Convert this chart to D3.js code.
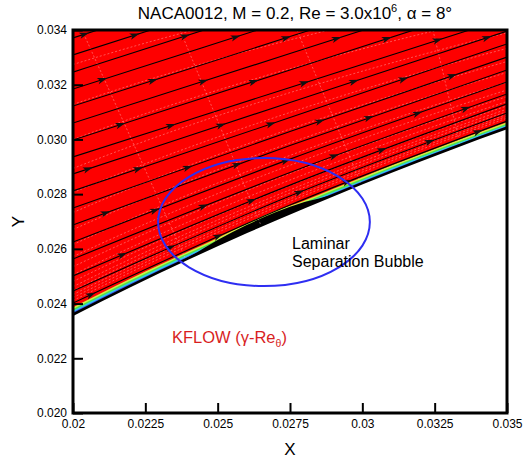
<!DOCTYPE html>
<html lang="en">
<head>
<meta charset="UTF-8">
<title>NACA0012 laminar separation bubble</title>
<script src="https://cdn.jsdelivr.net/npm/d3@7/dist/d3.min.js"></script>
<style>
    body { margin: 0; background: #fff; }
    text { font-family: "Liberation Sans", Arial, Helvetica, sans-serif; fill: #000; }
    .tick text { font-size: 12px; }
</style>
</head>
<body>
<svg id="main-svg" width="532" height="458" xmlns="http://www.w3.org/2000/svg"></svg>
<script>
'use strict';

// axis ticks
const xTicks = [0.02, 0.0225, 0.025, 0.0275, 0.03, 0.0325, 0.035];
const xTickLabels = ['0.02', '0.0225', '0.025', '0.0275', '0.03', '0.0325', '0.035'];
const yTicks = [0.020, 0.022, 0.024, 0.026, 0.028, 0.030, 0.032, 0.034];
const yTickLabels = ['0.020', '0.022', '0.024', '0.026', '0.028', '0.030', '0.032', '0.034'];

// upper surface of the airfoil (x, y)
const surfX = [0.020, 0.021, 0.022, 0.023, 0.024, 0.025, 0.026, 0.027,
               0.028, 0.029, 0.030, 0.031, 0.032, 0.033, 0.034, 0.035];
const surfY = [0.023598, 0.024136, 0.024659, 0.025168, 0.025663, 0.026147, 0.026619, 0.027080,
               0.027530, 0.027970, 0.028402, 0.028824, 0.029237, 0.029643, 0.030040, 0.030427];

// contour bands just above the wall (height above surface)
const blueOff   = [0.00009, 0.00009, 0.00008, 0.00008, 0.00008, 0.00008, 0.00008, 0.00007,
                   0.00007, 0.00007, 0.00007, 0.00007, 0.00006, 0.00006, 0.00006, 0.00006];
const cyanOff   = [0.00014, 0.00014, 0.00013, 0.00013, 0.00013, 0.00012, 0.00012, 0.00012,
                   0.00012, 0.00011, 0.00011, 0.00011, 0.00011, 0.00010, 0.00010, 0.00010];
const greenOff  = [0.00020, 0.00020, 0.00019, 0.00019, 0.00019, 0.00018, 0.00018, 0.00018,
                   0.00017, 0.00017, 0.00016, 0.00016, 0.00016, 0.00015, 0.00015, 0.00015];
const yellowOff = [0.00027, 0.00026, 0.00026, 0.00025, 0.00025, 0.00025, 0.00030, 0.00031,
                   0.00024, 0.00023, 0.00022, 0.00022, 0.00021, 0.00021, 0.00020, 0.00020];
// separation bubble thickness (dense recirculating streamlines)
const bubbleOff = [0, 0, 0, 0, 0.00004, 0.00018, 0.00025, 0.00026,
                   0.00018, 0.00002, 0, 0, 0, 0, 0, 0];

// streamlines: y at x = 0.02, 0.0275, 0.035
const streamX = [0.02, 0.0275, 0.035];
const streamLeft  = [0.03371, 0.03309, 0.03246, 0.03184, 0.03122, 0.03060, 0.02998, 0.02936, 0.02874,
                     0.02812, 0.02749, 0.02687, 0.02625, 0.02563, 0.02501, 0.02446, 0.02402];
const streamMid   = [0.03625, 0.03563, 0.03501, 0.03438, 0.03376, 0.03314, 0.03254, 0.03190, 0.03135,
                     0.03080, 0.03029, 0.02978, 0.02928, 0.02879, 0.02833, 0.02793, 0.02760];
const streamRight = [0.03879, 0.03817, 0.03755, 0.03692, 0.03630, 0.03568, 0.03510, 0.03444, 0.03396,
                     0.03349, 0.03301, 0.03254, 0.03210, 0.03166, 0.03130, 0.03097, 0.03067];

// grid lines of the mesh: wall-parallel lines (height above wall, left and right ends)
const meshOffLeft  = [0.00051, 0.00062, 0.00073, 0.00088, 0.00102, 0.00121, 0.00146, 0.00175, 0.00212,
                      0.00256, 0.00311, 0.00373, 0.00446, 0.00534, 0.00640, 0.00768, 0.00914, 0.01097];
const meshOffRight = [0.00035, 0.00042, 0.00049, 0.00059, 0.00068, 0.00080, 0.00096, 0.00114, 0.00138,
                      0.00166, 0.00202, 0.00242, 0.00290, 0.00347, 0.00416, 0.00499, 0.00594, 0.00713];
// wall-normal lines: from the top edge down to the wall
const meshTopX  = [0.02031, 0.02370, 0.02774, 0.03244];
const meshFootX = [0.02390, 0.02650, 0.02995, 0.03338];
const meshFootY = [0.02561, 0.02685, 0.02838, 0.02979];

// annotations
const ellipseC = [0.02660, 0.02698];
const ellipseR = [0.00366, 0.00234];

const svg = d3.select('#main-svg');
const x = d3.scaleLinear().domain([0.02, 0.035]).range([73, 507]);
const y = d3.scaleLinear().domain([0.020, 0.034]).range([413, 30]);

svg.append('clipPath').attr('id', 'plot-clip')
    .append('rect')
    .attr('x', x(0.02)).attr('y', y(0.034))
    .attr('width', x(0.035) - x(0.02)).attr('height', y(0.020) - y(0.034));

const plot = svg.append('g').attr('clip-path', 'url(#plot-clip)');
const idx = d3.range(surfX.length);

// red field above the wall
plot.append('path')
    .attr('d', d3.area()
        .x(i => x(surfX[i]))
        .y0(i => y(surfY[i]))
        .y1(() => y(0.035))
        .curve(d3.curveMonotoneX)(idx))
    .attr('fill', '#fe0000');

// colour bands near the wall
const bands = [[yellowOff, '#cdf046'], [greenOff, '#52e04a'], [cyanOff, '#30cdf0'], [blueOff, '#3a56f0']];
bands.forEach(([off, col]) => {
    plot.append('path')
        .attr('d', d3.area()
            .x(i => x(surfX[i]))
            .y0(i => y(surfY[i]))
            .y1(i => y(surfY[i] + off[i]))
            .curve(d3.curveMonotoneX)(idx))
        .attr('fill', col);
});

// laminar separation bubble
plot.append('path')
    .attr('d', d3.area()
        .x(i => x(surfX[i]))
        .y0(i => y(surfY[i]))
        .y1(i => y(surfY[i] + bubbleOff[i]))
        .curve(d3.curveMonotoneX)(idx))
    .attr('fill', '#000');

// mesh lines
const mesh = plot.append('g')
    .attr('fill', 'none')
    .attr('stroke', '#ffc8c8')
    .attr('stroke-opacity', 0.7)
    .attr('stroke-width', 0.6)
    .attr('stroke-dasharray', '2,2');
meshOffLeft.forEach((offL, k) => {
    const offR = meshOffRight[k];
    mesh.append('path')
        .attr('d', d3.line()
            .x(i => x(surfX[i]))
            .y(i => y(surfY[i] + offL + (offR - offL) * (surfX[i] - 0.02) / 0.015))
            .curve(d3.curveMonotoneX)(idx));
});
meshTopX.forEach((tx, k) => {
    mesh.append('line')
        .attr('x1', x(tx)).attr('y1', y(0.034))
        .attr('x2', x(meshFootX[k])).attr('y2', y(meshFootY[k]));
});

// streamlines with arrowheads
const streams = plot.append('g');
const streamLine = d3.line().x(d => x(d[0])).y(d => y(d[1])).curve(d3.curveNatural);
streamLeft.forEach((yl, k) => {
    const pts = [[streamX[0], yl], [streamX[1], streamMid[k]], [streamX[2], streamRight[k]]];
    const p = streams.append('path')
        .attr('d', streamLine(pts))
        .attr('fill', 'none')
        .attr('stroke', '#000')
        .attr('stroke-width', 1.1);
    const node = p.node();
    const len = node.getTotalLength();
    const step = 140;
    for (let s = 14 + (k * 53) % step; s < len - 4; s += step) {
        const a = node.getPointAtLength(s);
        const b = node.getPointAtLength(s + 2);
        const ang = Math.atan2(b.y - a.y, b.x - a.x) * 180 / Math.PI;
        streams.append('path')
            .attr('d', 'M3,0 L-7,-3.2 L-4.5,0 L-7,3.2 Z')
            .attr('transform', `translate(${a.x},${a.y}) rotate(${ang})`)
            .attr('fill', '#111');
    }
});

// airfoil surface
plot.append('path')
    .attr('d', d3.line()
        .x(i => x(surfX[i]))
        .y(i => y(surfY[i]))
        .curve(d3.curveMonotoneX)(idx))
    .attr('fill', 'none')
    .attr('stroke', '#000')
    .attr('stroke-width', 2.6);

// bubble annotation
svg.append('ellipse')
    .attr('cx', x(ellipseC[0])).attr('cy', y(ellipseC[1]))
    .attr('rx', x(ellipseC[0] + ellipseR[0]) - x(ellipseC[0]))
    .attr('ry', y(ellipseC[1] - ellipseR[1]) - y(ellipseC[1]))
    .attr('fill', 'none')
    .attr('stroke', '#2e2ef2')
    .attr('stroke-width', 2);

// axes
const xAxis = svg.append('g')
    .attr('transform', `translate(0,${y(0.020)})`)
    .call(d3.axisBottom(x).tickValues(xTicks)
        .tickFormat((d, i) => xTickLabels[i])
        .tickSizeInner(-10).tickSizeOuter(0).tickPadding(6));
const yAxis = svg.append('g')
    .attr('transform', `translate(${x(0.02)},0)`)
    .call(d3.axisLeft(y).tickValues(yTicks)
        .tickFormat((d, i) => yTickLabels[i])
        .tickSizeInner(-10).tickSizeOuter(0).tickPadding(6));
[xAxis, yAxis].forEach(g => {
    g.select('.domain').remove();
    g.selectAll('.tick line').attr('stroke-width', 2);
    g.selectAll('.tick text').attr('font-family', '"Liberation Sans", Arial, sans-serif').attr('font-size', 12);
});

// frame
svg.append('rect')
    .attr('x', x(0.02)).attr('y', y(0.034))
    .attr('width', x(0.035) - x(0.02)).attr('height', y(0.020) - y(0.034))
    .attr('fill', 'none')
    .attr('stroke', '#000')
    .attr('stroke-width', 3);

// title
const title = svg.append('text')
    .attr('x', 295).attr('y', 19)
    .attr('text-anchor', 'middle')
    .attr('font-size', 17);
title.append('tspan').text('NACA0012, M = 0.2, Re = 3.0x10');
title.append('tspan').attr('font-size', 11).attr('dy', -7).text('6');
title.append('tspan').attr('dy', 7).text(', \u03b1 = 8\u00b0');

// axis titles
svg.append('text')
    .attr('x', x(0.0275)).attr('y', 455)
    .attr('text-anchor', 'middle')
    .attr('font-size', 17)
    .text('X');
svg.append('text')
    .attr('transform', `translate(24,${y(0.027)}) rotate(-90)`)
    .attr('text-anchor', 'middle')
    .attr('font-size', 17)
    .text('Y');

// labels inside the plot
svg.append('text')
    .attr('x', x(0.02757)).attr('y', y(0.02599))
    .attr('font-size', 16)
    .text('Laminar');
svg.append('text')
    .attr('x', x(0.02757)).attr('y', y(0.02534))
    .attr('font-size', 16)
    .text('Separation Bubble');

const kflow = svg.append('text')
    .attr('x', x(0.02342)).attr('y', y(0.02256))
    .attr('font-size', 16.5)
    .style('fill', '#d81e1e');
kflow.append('tspan').text('KFLOW (\u03b3-Re');
kflow.append('tspan').attr('font-size', 10.5).attr('dy', 4).text('\u03b8');
kflow.append('tspan').attr('dy', -4).text(')');
</script>
</body>
</html>
